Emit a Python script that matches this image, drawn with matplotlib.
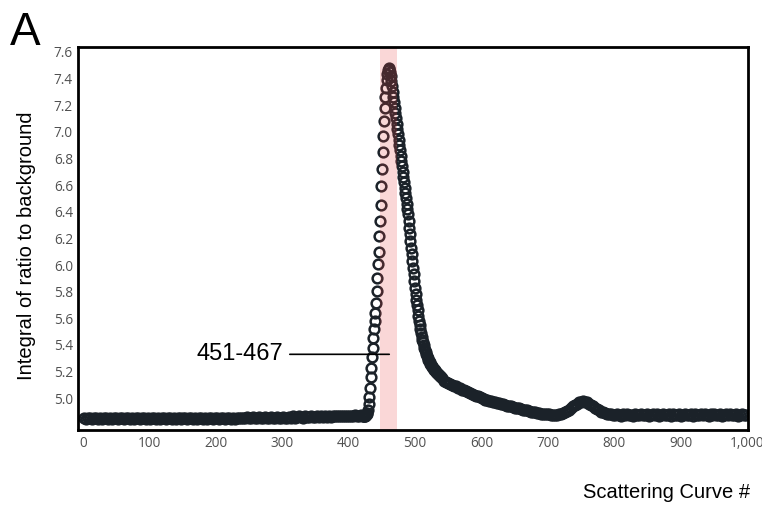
import numpy as np
import matplotlib
matplotlib.use("Agg")
import matplotlib.pyplot as plt
from matplotlib.ticker import FuncFormatter, MultipleLocator

# scattering curve numbers (three sampling segments) and read-off values
curve_base = list(range(1, 422, 3))
ratio_base = [
    4.85, 4.845, 4.855, 4.85, 4.845, 4.85, 4.855, 4.845, 4.85, 4.845,
    4.855, 4.85, 4.845, 4.855, 4.845, 4.85, 4.855, 4.845, 4.855, 4.85,
    4.845, 4.855, 4.85, 4.845, 4.855, 4.845, 4.855, 4.85, 4.845, 4.855,
    4.855, 4.845, 4.85, 4.845, 4.855, 4.85, 4.845, 4.855, 4.845, 4.85,
    4.855, 4.845, 4.855, 4.85, 4.845, 4.855, 4.845, 4.855, 4.85, 4.845,
    4.855, 4.85, 4.845, 4.855, 4.855, 4.845, 4.85, 4.845, 4.855, 4.85,
    4.845, 4.855, 4.845, 4.85, 4.855, 4.845, 4.855, 4.85, 4.845, 4.855,
    4.85, 4.845, 4.855, 4.855, 4.845, 4.855, 4.845, 4.85, 4.855, 4.85,
    4.855, 4.85, 4.86, 4.85, 4.855, 4.86, 4.85, 4.855, 4.86, 4.855,
    4.85, 4.86, 4.855, 4.855, 4.86, 4.855, 4.85, 4.86, 4.855, 4.855,
    4.86, 4.855, 4.855, 4.86, 4.855, 4.865, 4.855, 4.86, 4.865, 4.86,
    4.855, 4.865, 4.86, 4.86, 4.865, 4.86, 4.86, 4.865, 4.86, 4.865,
    4.86, 4.865, 4.86, 4.87, 4.86, 4.865, 4.87, 4.865, 4.865, 4.87,
    4.865, 4.87, 4.865, 4.87, 4.865, 4.87, 4.875, 4.865, 4.87, 4.875,
    4.87,
]

curve_peak = list(range(422, 541))
ratio_peak = [
    # 422 - 460 : rise
    4.865, 4.865, 4.87, 4.87, 4.875, 4.88, 4.89, 4.91, 4.955, 5.01,
    5.08, 5.16, 5.23, 5.31, 5.38, 5.455, 5.52, 5.58, 5.64, 5.715,
    5.805, 5.90, 6.01, 6.10, 6.215, 6.33, 6.45, 6.59, 6.72, 6.85,
    6.97, 7.08, 7.18, 7.26, 7.325, 7.385, 7.43, 7.46, 7.475,
    # 461 - 540 : fall
    7.47, 7.45, 7.42, 7.38, 7.34, 7.30, 7.26, 7.22, 7.18, 7.14,
    7.10, 7.06, 7.02, 6.98, 6.94, 6.90, 6.86, 6.82, 6.78, 6.74,
    6.70, 6.66, 6.62, 6.58, 6.54, 6.50, 6.46, 6.42, 6.38, 6.33,
    6.28, 6.23, 6.18, 6.13, 6.08, 6.03, 5.98, 5.93, 5.88, 5.83,
    5.78, 5.74, 5.70, 5.66, 5.62, 5.58, 5.55, 5.52, 5.49, 5.46,
    5.44, 5.42, 5.40, 5.38, 5.36, 5.345, 5.33, 5.315, 5.30, 5.29,
    5.28, 5.27, 5.26, 5.25, 5.24, 5.235, 5.23, 5.22, 5.215, 5.21,
    5.20, 5.195, 5.19, 5.185, 5.18, 5.175, 5.17, 5.165, 5.16, 5.155,
]

curve_tail = list(range(543, 1001, 3))
ratio_tail = [
    5.13, 5.125, 5.115, 5.11, 5.10, 5.095, 5.09, 5.08, 5.075, 5.065,
    5.06, 5.055, 5.045, 5.04, 5.035, 5.025, 5.02, 5.015, 5.01, 5.00,
    4.995, 4.99, 4.985, 4.98, 4.98, 4.975, 4.97, 4.965, 4.965, 4.96,
    4.955, 4.95, 4.945, 4.945, 4.94, 4.935, 4.93, 4.93, 4.925, 4.92,
    4.915, 4.915, 4.91, 4.905, 4.90, 4.90, 4.895, 4.89, 4.89, 4.885,
    4.885, 4.88, 4.88, 4.88, 4.875, 4.875, 4.875, 4.875, 4.88, 4.885,
    4.89, 4.895, 4.905, 4.915, 4.925, 4.94, 4.95, 4.96, 4.97, 4.975,
    4.98, 4.975, 4.97, 4.96, 4.95, 4.94, 4.93, 4.92, 4.91, 4.90,
    4.895, 4.89, 4.885, 4.88, 4.88, 4.875, 4.875, 4.88, 4.875, 4.87,
    4.88, 4.875, 4.88, 4.875, 4.875, 4.87, 4.88, 4.875, 4.875, 4.88,
    4.875, 4.875, 4.88, 4.87, 4.875, 4.88, 4.875, 4.88, 4.87, 4.875,
    4.88, 4.875, 4.875, 4.88, 4.87, 4.88, 4.875, 4.875, 4.88, 4.87,
    4.875, 4.88, 4.875, 4.875, 4.88, 4.87, 4.88, 4.875, 4.875, 4.88,
    4.875, 4.88, 4.875, 4.87, 4.88, 4.875, 4.88, 4.875, 4.875, 4.88,
    4.87, 4.875, 4.88, 4.875, 4.88, 4.875, 4.875, 4.88, 4.87, 4.875,
    4.88, 4.875, 4.875,
]

highlight = (447, 473)
label_text = "451-467"

curves = np.array(curve_base + curve_peak + curve_tail)
ratios = np.array(ratio_base + ratio_peak + ratio_tail)
assert len(curves) == len(ratios), (len(curves), len(ratios))

fig = plt.figure(figsize=(7.62, 5.08), dpi=100)
ax = fig.add_axes([0.103, 0.1535, 0.8782, 0.753])

ax.plot(curves, ratios, ls='none', marker='o', ms=7.0, mfc='none',
        mec='#1b2229', mew=1.8, zorder=2)
ax.axvspan(*highlight, color='#e84444', alpha=0.21, lw=0, zorder=2.5)

ax.annotate(label_text, xy=(461, 5.33), xytext=(170, 5.33),
            ha='left', va='center', fontsize=17, family='Liberation Sans',
            arrowprops=dict(arrowstyle='-', lw=1.2, color='black',
                            shrinkA=3, shrinkB=0), zorder=3)

ax.set_xlim(-7.2, 1001)
ax.set_ylim(4.762, 7.632)
ax.xaxis.set_major_locator(MultipleLocator(100))
ax.set_yticks(np.arange(5.0, 7.61, 0.2))
ax.xaxis.set_major_formatter(FuncFormatter(lambda v, p: f'{v:,.0f}'))
ax.yaxis.set_major_formatter(FuncFormatter(lambda v, p: f'{v:.1f}'))
ax.tick_params(length=0, labelsize=9.8, labelcolor='#505050')
ax.tick_params(axis='x', pad=4)
ax.tick_params(axis='y', pad=4)
for lab in ax.get_xticklabels() + ax.get_yticklabels():
    lab.set_family('Open Sans')
for sp in ax.spines.values():
    sp.set_linewidth(2)
    sp.set_color('black')

fig.text(0.0131, 0.9114, 'A', fontsize=33, family='Liberation Sans',
         ha='left', va='baseline')
fig.text(0.0354, 0.5157, 'Integral of ratio to background', rotation=90,
         fontsize=14.5, family='Liberation Sans', ha='center', va='center')
fig.text(583 / 762, 1 - 498 / 508, 'Scattering Curve #', fontsize=14.5,
         family='Liberation Sans', ha='left', va='baseline')

fig.savefig('out.png', dpi=100)
